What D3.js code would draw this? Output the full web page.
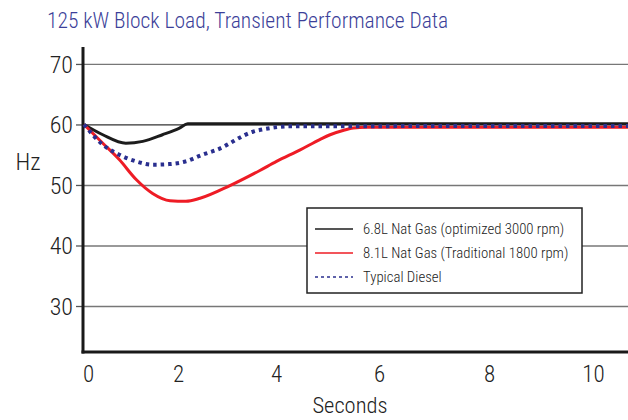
<!DOCTYPE html>
<html>
<head>
<meta charset="utf-8">
<script src="https://cdn.jsdelivr.net/npm/d3@7/dist/d3.min.js"></script>
<style>
  body { margin: 0; background: #fff; }
  svg text { font-family: "Roboto Condensed", "Liberation Sans Narrow", "Arial Narrow", sans-serif; font-stretch: condensed; font-weight: 300; }
</style>
</head>
<body>
<svg id="chart" width="628" height="420"></svg>
<script>
// tick values
let xTicks = [0, 2, 4, 6, 8, 10];
let yTicks = [30, 40, 50, 60, 70];

// series: [seconds, Hz]
let gas68 = [[0, 60], [0.4, 58.3], [0.89, 56.9], [1.25, 57.2], [1.67, 58.3], [2.03, 59.4], [2.2, 60.1], [10.68, 60.1]];
let gas81 = [[0, 60], [0.4, 56.9], [0.75, 54.2], [1.11, 50.9], [1.46, 48.6], [1.83, 47.4], [2.16, 47.3], [2.45, 47.8],
  [3.06, 49.9], [3.67, 52.4], [4.01, 53.9], [4.47, 55.8], [4.85, 57.5], [5.05, 58.3], [5.3, 59.0], [5.5, 59.4], [5.75, 59.55], [10.68, 59.55]];
let diesel = [[0, 60], [0.4, 56.65], [0.75, 55.0], [1.11, 53.9], [1.46, 53.35], [1.81, 53.45], [2.16, 53.9], [2.5, 55.0],
  [2.79, 55.8], [3.53, 58.8], [3.88, 59.4], [4.27, 59.7], [10.68, 59.75]];

let seriesNames = ["6.8L Nat Gas (optimized 3000 rpm)", "8.1L Nat Gas (Traditional 1800 rpm)", "Typical Diesel"];

let svg = d3.select("#chart");

// the printed axis is not evenly spaced, so use a piecewise linear scale
let x = d3.scaleLinear()
  .domain([0, 2, 4, 6, 8, 10, 10.68])
  .range([84, 178, 276, 379, 489, 593, 628]);
let y = d3.scaleLinear().domain([22.4, 72.8]).range([352, 47]);

// title
svg.append("text")
  .attr("x", 47).attr("y", 28)
  .attr("font-size", 21.5)
  .attr("fill", "#3c3f99")
  .text("125 kW Block Load, Transient Performance Data");

// gridlines + y ticks
let yAxis = svg.append("g").attr("transform", "translate(83,0)")
  .call(d3.axisLeft(y).tickValues(yTicks).tickSize(7).tickPadding(3));
yAxis.select(".domain").remove();
yAxis.selectAll(".tick line").attr("stroke", "#555").attr("stroke-width", 1.3);
yAxis.selectAll(".tick text").attr("font-size", 24).attr("fill", "#222").attr("dy", "0.35em");
yAxis.selectAll(".tick").append("line")
  .attr("x1", 0).attr("x2", 628 - 83)
  .attr("stroke", d => d === 60 ? "#333" : "#777")
  .attr("stroke-width", 1.3);

// x tick labels (no tick marks)
let xAxis = svg.append("g").attr("transform", "translate(0,352)")
  .call(d3.axisBottom(x).tickValues(xTicks).tickSize(0).tickPadding(14).tickFormat(d3.format("d")));
xAxis.select(".domain").remove();
xAxis.selectAll(".tick text").attr("font-size", 23).attr("fill", "#222")
  .attr("dx", d => d === 0 ? 4 : 0);

// axis labels
svg.append("text").attr("x", 28).attr("y", 170).attr("text-anchor", "middle")
  .attr("font-size", 24).attr("fill", "#222").text("Hz");
svg.append("text").attr("x", 350).attr("y", 413).attr("text-anchor", "middle")
  .attr("font-size", 22.5).attr("fill", "#222").text("Seconds");

// axis lines
svg.append("line").attr("x1", 83).attr("x2", 83).attr("y1", 47).attr("y2", 353.5)
  .attr("stroke", "#1a1a1a").attr("stroke-width", 3);
svg.append("line").attr("x1", 81.5).attr("x2", 628).attr("y1", 352).attr("y2", 352)
  .attr("stroke", "#1a1a1a").attr("stroke-width", 3);

let line = d3.line().x(d => x(d[0])).y(d => y(d[1])).curve(d3.curveMonotoneX);

svg.append("path").datum(gas68).attr("d", line)
  .attr("fill", "none").attr("stroke", "#1c1c1c").attr("stroke-width", 3);
svg.append("path").datum(gas81).attr("d", line)
  .attr("fill", "none").attr("stroke", "#ee1c25").attr("stroke-width", 3);
svg.append("path").datum(diesel).attr("d", line)
  .attr("fill", "none").attr("stroke", "#2a2f8f").attr("stroke-width", 4).attr("stroke-dasharray", "3.5,4");

// legend
let lg = svg.append("g").attr("transform", "translate(307,208)");
lg.append("rect").attr("width", 275).attr("height", 85)
  .attr("fill", "#fff").attr("stroke", "#222").attr("stroke-width", 1.5);
let styles = [
  { color: "#1c1c1c", dash: null },
  { color: "#ee1c25", dash: null },
  { color: "#2a2f8f", dash: "3,3" }
];
seriesNames.forEach((name, i) => {
  let yy = 21 + i * 24;
  lg.append("line").attr("x1", 8).attr("x2", 46).attr("y1", yy).attr("y2", yy)
    .attr("stroke", styles[i].color).attr("stroke-width", 1.6)
    .attr("stroke-dasharray", styles[i].dash);
  lg.append("text").attr("x", 56).attr("y", yy + 5)
    .attr("font-size", 14.8).attr("fill", "#222").text(name);
});
</script>
</body>
</html>
